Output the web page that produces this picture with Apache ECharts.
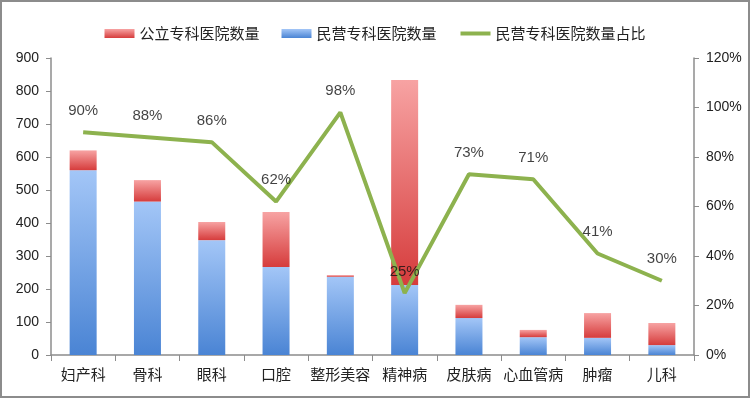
<!DOCTYPE html>
<html>
<head>
<meta charset="utf-8">
<script src="https://cdn.jsdelivr.net/npm/echarts@6/dist/echarts.min.js"></script>
<style>
  html, body { margin: 0; padding: 0; background: #fff; }
  #chart { width: 750px; height: 398px; box-sizing: border-box; border: 2px solid #8c8c8c; }
</style>
</head>
<body>
<div id="chart"></div>
<script>
// 科室
const categories = ['妇产科', '骨科', '眼科', '口腔', '整形美容', '精神病', '皮肤病', '心血管病', '肿瘤', '儿科'];
// 民营专科医院数量
const privateCounts = [560, 465, 348, 267, 237, 212, 112, 54, 52, 30];
// 公立专科医院数量
const publicCounts = [60, 65, 55, 166, 5, 621, 40, 22, 75, 67];
// 民营专科医院数量占比 (%)
const privateShare = [90, 88, 86, 62, 98, 25, 73, 71, 41, 30];

const chart = echarts.init(document.getElementById('chart'));

const font = '"Liberation Sans", "Noto Sans CJK SC", sans-serif';
const cjk = '"Noto Sans CJK SC", sans-serif';
const axisColor = '#8c8c8c';

function grad(top, bottom) {
    return new echarts.graphic.LinearGradient(0, 0, 0, 1, [
        { offset: 0, color: top },
        { offset: 1, color: bottom }
    ]);
}

const option = {
    animation: false,
    textStyle: { fontFamily: font },
    legend: {
        top: 19,
        left: 'center',
        itemWidth: 30,
        itemHeight: 9,
        itemGap: 22,
        textStyle: { fontSize: 15, color: '#222', fontFamily: cjk },
        data: [
            { name: '公立专科医院数量', icon: 'rect' },
            { name: '民营专科医院数量', icon: 'rect' },
            { name: '民营专科医院数量占比', itemStyle: { opacity: 0 }, lineStyle: { width: 4 } }
        ]
    },
    grid: { left: 49, right: 54, top: 56, bottom: 41 },
    xAxis: {
        type: 'category',
        data: categories,
        axisLine: { lineStyle: { color: axisColor, width: 1.5 } },
        axisTick: { show: true, length: 6, lineStyle: { color: axisColor } },
        axisLabel: { interval: 0, fontSize: 15, color: '#222', margin: 12, fontFamily: cjk }
    },
    yAxis: [
        {
            type: 'value',
            min: 0, max: 900, interval: 100,
            splitLine: { show: false },
            axisLine: { show: true, lineStyle: { color: axisColor, width: 1.5 } },
            axisTick: { show: true, length: 5, lineStyle: { color: axisColor } },
            axisLabel: { fontSize: 14, color: '#222', margin: 12 }
        },
        {
            type: 'value',
            min: 0, max: 120, interval: 20,
            splitLine: { show: false },
            axisLine: { show: true, lineStyle: { color: axisColor, width: 1.5 } },
            axisTick: { show: true, length: 5, lineStyle: { color: axisColor } },
            axisLabel: { fontSize: 14, color: '#222', margin: 12, formatter: '{value}%' }
        }
    ],
    series: [
        {
            name: '民营专科医院数量',
            type: 'bar',
            stack: 'total',
            barWidth: 27,
            data: privateCounts,
            itemStyle: { color: grad('#a3c6f7', '#4a84d4') }
        },
        {
            name: '公立专科医院数量',
            type: 'bar',
            stack: 'total',
            barWidth: 27,
            data: publicCounts,
            itemStyle: { color: grad('#f7a3a3', '#d63c3c') }
        },
        {
            name: '民营专科医院数量占比',
            type: 'line',
            yAxisIndex: 1,
            data: privateShare,
            symbol: 'none',
            lineStyle: { color: '#8db24e', width: 4 },
            itemStyle: { color: '#8db24e' },
            z: 5
        },
        {
            // 占比数值标签
            name: 'shareLabels',
            type: 'scatter',
            yAxisIndex: 1,
            data: privateShare,
            symbolSize: 0,
            silent: true,
            label: {
                show: true,
                position: 'top',
                distance: 14,
                fontSize: 15,
                color: '#111',
                formatter: '{c}%'
            },
            z: 6
        }
    ]
};

chart.setOption(option);
window.addEventListener('resize', function() {
    chart.resize();
});
</script>
</body>
</html>
